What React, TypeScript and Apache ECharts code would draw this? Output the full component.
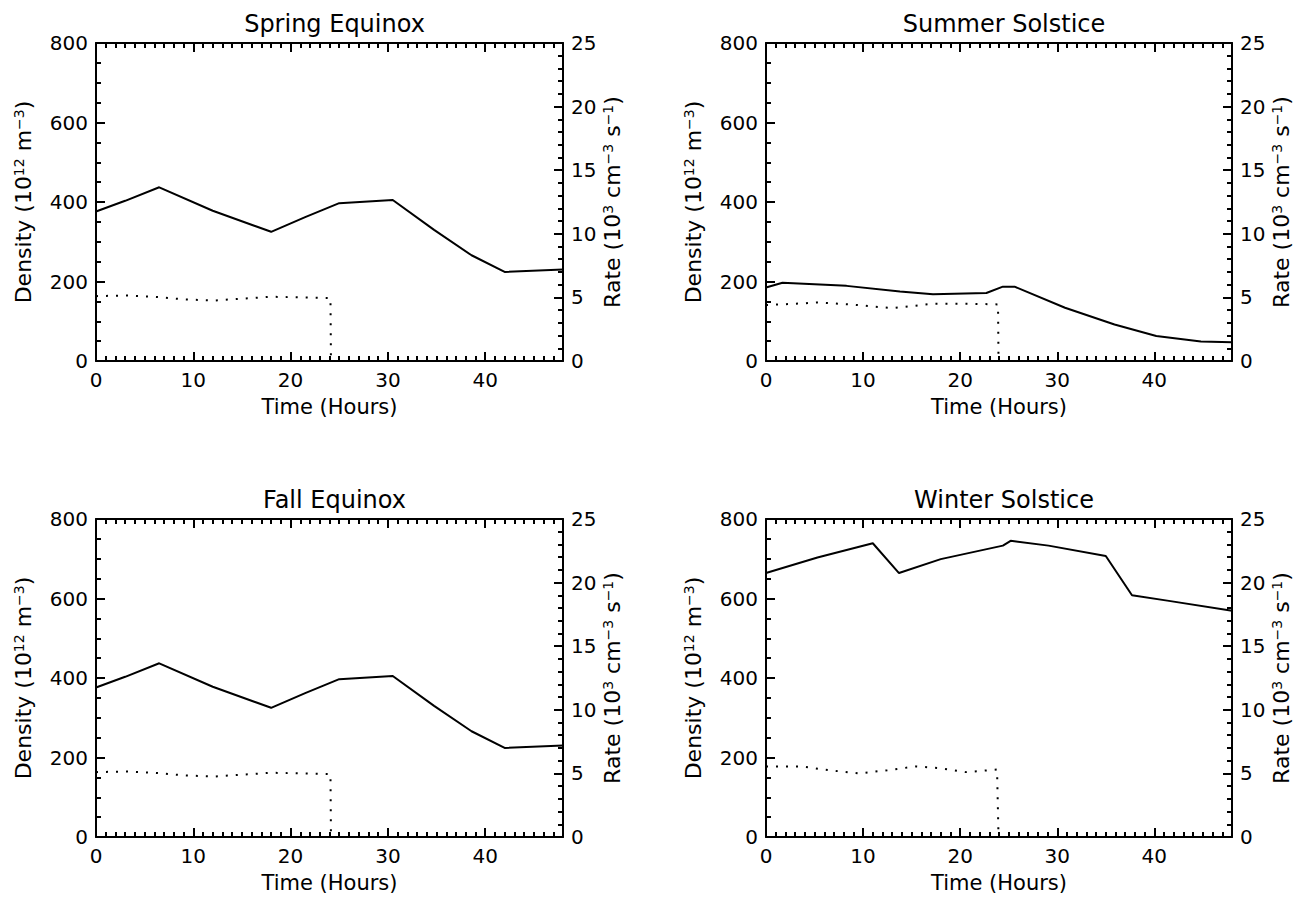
import React, { useEffect, useRef } from 'react';
import * as echarts from 'echarts';

const panelTitles = ['Spring Equinox', 'Summer Solstice', 'Fall Equinox', 'Winter Solstice'];

const springDensity = [[0, 376], [3, 403], [6.5, 437], [12, 378], [18, 325], [21.5, 362], [25, 397], [30.5, 405], [34.75, 330], [38.6, 266], [42, 224], [48, 230]];
const springRate = [[0, 5.1], [3, 5.15], [6, 5.05], [9, 4.85], [12, 4.75], [15, 4.9], [18, 5.05], [21, 5.0], [24.1, 4.95], [24.15, 0]];

const summerDensity = [[0, 185], [1.7, 197], [8.3, 189], [13.8, 175], [17.2, 168], [22.7, 171], [24.4, 187], [25.6, 187], [30.8, 134], [35.9, 92], [40.2, 63], [44.8, 49], [48, 47]];
const summerRate = [[0, 4.4], [3, 4.5], [5.3, 4.6], [8.7, 4.45], [13, 4.15], [17.2, 4.5], [21, 4.5], [23.9, 4.45], [23.95, 0]];

const fallDensity = [[0, 376], [3, 403], [6.5, 437], [12, 378], [18, 325], [21.5, 362], [25, 397], [30.5, 405], [34.75, 330], [38.6, 266], [42, 224], [48, 230]];
const fallRate = [[0, 5.1], [3, 5.15], [6, 5.05], [9, 4.85], [12, 4.75], [15, 4.9], [18, 5.05], [21, 5.0], [24.1, 4.95], [24.15, 0]];

const winterDensity = [[0, 664], [5.3, 703], [11, 739], [13.7, 664], [18, 699], [24.4, 733], [25.2, 745], [29.1, 733], [35, 707], [37.7, 608], [41.5, 594], [48, 569]];
const winterRate = [[0, 5.55], [3.6, 5.55], [6.5, 5.25], [9.6, 5.0], [12.5, 5.25], [15.5, 5.55], [18, 5.4], [20.6, 5.1], [23.8, 5.3], [23.95, 0]];

const densityData = [springDensity, summerDensity, fallDensity, winterDensity];
const rateData = [springRate, summerRate, fallRate, winterRate];

const xLabel = 'Time (Hours)';
const yLeftLabel = 'Density (10{sup|12} m{sup|\u22123})';
const yRightLabel = 'Rate (10{sup|3} cm{sup|\u22123} s{sup|\u22121})';

const FONT = 'DejaVu Sans';

const grids = [
  { left: 96, top: 43, width: 467, height: 318 },
  { left: 766, top: 43, width: 466, height: 318 },
  { left: 96, top: 519, width: 467, height: 318 },
  { left: 766, top: 519, width: 466, height: 318 },
];

function buildOption() {
  const axisLine = { show: true, onZero: false, lineStyle: { color: '#000', width: 2 } };
  const tickTxt = { color: '#000', fontFamily: FONT, fontSize: 20 };
  const xNameTxt = { color: '#000', fontFamily: FONT, fontSize: 21 };
  const yNameTxt = { color: '#000', fontFamily: FONT, fontSize: 22 };
  const rich = { sup: { fontSize: 14, lineHeight: 14, verticalAlign: 'top', fontFamily: FONT, color: '#000' } };
  const major = { show: true, inside: true, length: 9, lineStyle: { color: '#000', width: 2 } };
  const minorLine = { color: '#000', width: 2 };
  const xAxis: any[] = [];
  const yAxis: any[] = [];
  const series: any[] = [];
  const title: any[] = [];
  grids.forEach((g, i) => {
    title.push({
      text: panelTitles[i],
      left: g.left + g.width / 2,
      top: g.top - 36,
      textAlign: 'center',
      textStyle: { color: '#000', fontFamily: FONT, fontSize: 24, fontWeight: 'normal' },
    });
    const base = { type: 'value', gridIndex: i, min: 0, max: 48, interval: 10, splitLine: { show: false }, axisLine, axisTick: major };
    xAxis.push({
      ...base, position: 'bottom',
      minorTick: { show: true, splitNumber: 10, length: 5, lineStyle: minorLine },
      axisLabel: { ...tickTxt, margin: 9, showMaxLabel: false },
      name: xLabel, nameLocation: 'middle', nameGap: 35, nameTextStyle: xNameTxt,
    });
    xAxis.push({
      ...base, position: 'top',
      minorTick: { show: true, splitNumber: 10, length: 5, lineStyle: minorLine },
      axisLabel: { show: false },
    });
    yAxis.push({
      type: 'value', gridIndex: i, position: 'left', min: 0, max: 800, interval: 200, axisLine,
      axisTick: major,
      minorTick: { show: true, splitNumber: 4, length: 5, lineStyle: minorLine },
      axisLabel: { ...tickTxt, margin: 8 }, splitLine: { show: false },
      name: yLeftLabel, nameLocation: 'middle', nameGap: 62,
      nameTextStyle: { ...yNameTxt, rich },
    });
    yAxis.push({
      type: 'value', gridIndex: i, position: 'right', min: 0, max: 25, interval: 5, axisLine,
      axisTick: major,
      minorTick: { show: true, splitNumber: 5, length: 5, lineStyle: minorLine },
      axisLabel: { ...tickTxt, margin: 8 }, splitLine: { show: false },
      name: yRightLabel, nameLocation: 'middle', nameGap: 38,
      nameTextStyle: { ...yNameTxt, rich },
    });
    series.push({
      type: 'line', xAxisIndex: i * 2, yAxisIndex: i * 2, data: densityData[i],
      showSymbol: false, lineStyle: { color: '#000', width: 2 }, silent: true,
    });
    series.push({
      type: 'line', xAxisIndex: i * 2, yAxisIndex: i * 2 + 1, data: rateData[i],
      showSymbol: false, lineStyle: { color: '#000', width: 2, type: [2, 8] }, silent: true,
    });
  });
  return {
    animation: false,
    backgroundColor: '#fff',
    title,
    grid: grids.map((g) => ({ ...g, containLabel: false })),
    xAxis,
    yAxis,
    series,
  };
}

export default function App() {
  const ref = useRef<HTMLDivElement>(null);
  useEffect(() => {
    if (!ref.current) return;
    const chart = echarts.init(ref.current, null, { renderer: 'svg' });
    chart.setOption(buildOption() as any);
    return () => chart.dispose();
  }, []);
  return (
    <div
      ref={ref}
      style={{ position: 'fixed', left: 0, top: 0, width: 1300, height: 901, background: '#fff' }}
    />
  );
}
